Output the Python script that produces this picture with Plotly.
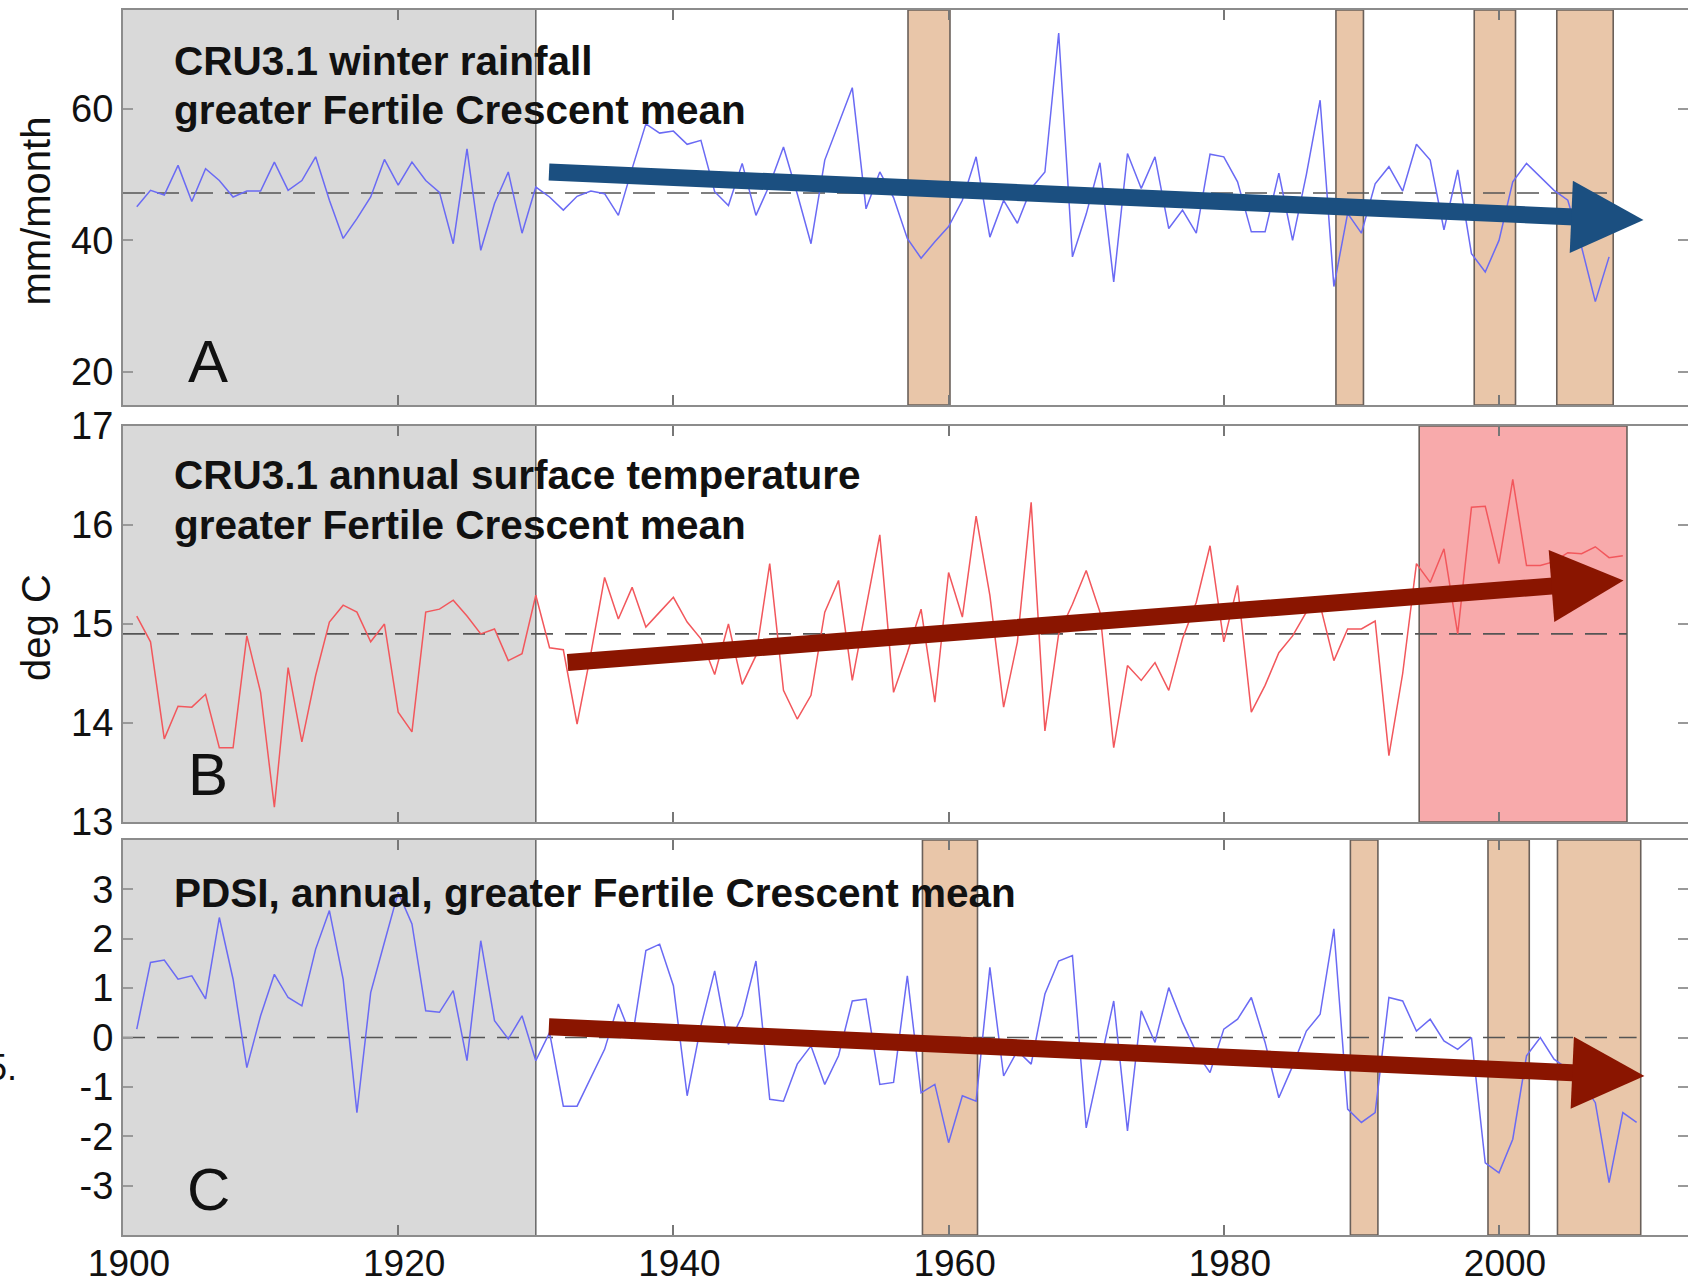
import plotly.graph_objects as go

# ---------------- data ----------------
years_rain = list(range(1901, 2009))
rain = [45.1, 47.6, 46.9, 51.4, 45.9, 50.9, 49.1, 46.6, 47.5, 47.5,
        51.9, 47.6, 49.1, 52.7, 46.1, 40.3, 43.3, 46.6, 52.3, 48.4,
        51.9, 49.1, 47.3, 39.5, 53.9, 38.5, 45.6, 50.4, 41.1, 48.1,
        46.6, 44.6, 46.7, 47.5, 47.1, 43.8, 50.9, 57.7, 56.3, 56.6,
        54.6, 55.2, 47.4, 45.3, 51.7, 43.8, 48.5, 54.2, 47.1, 39.5,
        52.2, 57.7, 63.2, 44.8, 50.4, 46.5, 40.3, 37.3, 39.8, 42.1,
        46.1, 52.7, 40.5, 46.1, 42.6, 47.9, 50.4, 71.5, 37.5, 44.0,
        51.8, 33.7, 53.2, 47.9, 52.7, 41.8, 44.6, 41.1, 53.1, 52.7,
        48.9, 41.3, 41.3, 50.2, 40.0, 50.0, 61.3, 33.0, 44.1, 41.1,
        48.6, 51.2, 47.5, 54.6, 52.2, 41.6, 50.7, 38.0, 35.2, 40.0,
        48.9, 51.7, 49.7, 47.6, 46.1, 39.0, 30.7, 37.5]

years_temp = list(range(1901, 2010))
temp = [15.08, 14.82, 13.84, 14.17, 14.16, 14.29, 13.75, 13.75, 14.88, 14.31,
        13.15, 14.56, 13.81, 14.48, 15.02, 15.19, 15.12, 14.82, 15.00, 14.11,
        13.91, 15.12, 15.15, 15.24, 15.08, 14.90, 14.95, 14.63, 14.70, 15.29,
        14.76, 14.74, 13.99, 14.70, 15.47, 15.05, 15.37, 14.97, 15.12, 15.27,
        15.02, 14.85, 14.49, 15.00, 14.39, 14.68, 15.61, 14.33, 14.04, 14.28,
        15.12, 15.44, 14.43, 15.15, 15.90, 14.31, 14.71, 15.15, 14.21, 15.52,
        15.07, 16.09, 15.29, 14.16, 14.82, 16.23, 13.92, 14.90, 15.20, 15.54,
        15.12, 13.75, 14.58, 14.43, 14.61, 14.33, 14.85, 15.22, 15.79, 14.82,
        15.39, 14.11, 14.38, 14.71, 14.88, 15.12, 15.19, 14.63, 14.95, 14.95,
        15.03, 13.67, 14.50, 15.61, 15.42, 15.76, 14.90, 16.18, 16.19, 15.61,
        16.46, 15.59, 15.59, 15.63, 15.72, 15.71, 15.78, 15.67, 15.69]

years_pdsi = list(range(1901, 2011))
pdsi = [0.17, 1.52, 1.57, 1.18, 1.25, 0.78, 2.43, 1.18, -0.61, 0.44,
        1.28, 0.81, 0.64, 1.79, 2.57, 1.18, -1.52, 0.91, 1.93, 2.94,
        2.30, 0.54, 0.51, 0.95, -0.47, 1.96, 0.34, -0.03, 0.44, -0.47,
        0.10, -1.39, -1.39, -0.81, -0.24, 0.68, -0.03, 1.76, 1.89, 1.05,
        -1.18, 0.24, 1.35, -0.14, 0.44, 1.55, -1.25, -1.29, -0.54, -0.17,
        -0.95, -0.37, 0.74, 0.78, -0.95, -0.91, 1.25, -1.12, -0.95, -2.13,
        -1.18, -1.29, 1.42, -0.78, -0.27, -0.54, 0.88, 1.55, 1.66, -1.83,
        -0.55, 0.74, -1.89, 0.54, -0.10, 1.01, 0.30, -0.30, -0.71, 0.17,
        0.37, 0.81, -0.10, -1.22, -0.58, 0.13, 0.47, 2.20, -1.45, -1.72,
        -1.52, 0.81, 0.74, 0.13, 0.37, -0.07, -0.24, 0.00, -2.54, -2.74,
        -2.06, -0.37, 0.00, -0.44, -0.64, -0.90, -1.32, -2.94, -1.52, -1.72]

# reference means (dashed lines) and their end years
rain_mean, rain_mean_end = 47.2, 2008.1
temp_mean, temp_mean_end = 14.9, 2009.3
pdsi_mean, pdsi_mean_end = 0.0, 2010.0

# shaded periods
calib_period = (1900, 1930)
rain_dry = [(1957.05, 1960.1), (1988.15, 1990.15), (1998.2, 2001.2), (2004.2, 2008.3)]
temp_warm = [(1994.2, 2009.3)]
pdsi_dry = [(1958.1, 1962.1), (1989.2, 1991.2), (1999.2, 2002.2), (2004.25, 2010.3)]

# trend arrows: (tail year, tail value, head year, head value)
rain_trend = (1930.85, 50.4, 2010.5, 43.1)
temp_trend = (1932.2, 14.61, 2009.05, 15.44)
pdsi_trend = (1930.84, 0.22, 2010.57, -0.78)

# ticks
x_ticks = [1900, 1920, 1940, 1960, 1980, 2000]
x_ticktext = ["1900", "1920", "1940", "1960", "1980", "2000"]
rain_ticks = [20, 40, 60]
temp_ticks = [13, 14, 15, 16, 17]
pdsi_ticks = [-3, -2, -1, 0, 1, 2, 3]
pdsi_ticktext = ["-3", "-2", "-1", "0", "1", "2", "3"]

# ---------------- styling ----------------
FONT = "Liberation Sans, Arial, Helvetica, sans-serif"
W, H = 1688, 1287
ML, MR, MT, MB = 123, 0, 10, 52
PX_PER_YEAR = 13.76
X_END = 1900 + (W - ML - MR) / PX_PER_YEAR

BLUE_LINE = "#6a6af4"
RED_LINE = "#f2575c"
GRAY_FILL = "#d9d9d9"
TAN_FILL = "#e9c6a9"
PINK_FILL = "#f8aaab"
EDGE = "#6a605a"
FRAME = "#8c8c8c"

fig = go.Figure()

fig.add_trace(go.Scatter(x=years_rain, y=rain, mode="lines",
                         line=dict(color=BLUE_LINE, width=1.5),
                         xaxis="x", yaxis="y", showlegend=False, hoverinfo="skip"))
fig.add_trace(go.Scatter(x=years_temp, y=temp, mode="lines",
                         line=dict(color=RED_LINE, width=1.5),
                         xaxis="x2", yaxis="y2", showlegend=False, hoverinfo="skip"))
fig.add_trace(go.Scatter(x=years_pdsi, y=pdsi, mode="lines",
                         line=dict(color=BLUE_LINE, width=1.5),
                         xaxis="x3", yaxis="y3", showlegend=False, hoverinfo="skip"))

shapes = []
panels = [("x", "y", rain_dry, TAN_FILL, rain_mean, rain_mean_end),
          ("x2", "y2", temp_warm, PINK_FILL, temp_mean, temp_mean_end),
          ("x3", "y3", pdsi_dry, TAN_FILL, pdsi_mean, pdsi_mean_end)]
for xr, yr, periods, fill, mean, mean_end in panels:
    shapes.append(dict(type="rect", xref=xr, yref=yr + " domain",
                       x0=calib_period[0], x1=calib_period[1], y0=0, y1=1,
                       fillcolor=GRAY_FILL, line=dict(width=0), layer="below"))
    shapes.append(dict(type="line", xref=xr, yref=yr + " domain",
                       x0=calib_period[1], x1=calib_period[1], y0=0, y1=1,
                       line=dict(color="#6e6e6e", width=1.6), layer="below"))
    for a, b in periods:
        shapes.append(dict(type="rect", xref=xr, yref=yr + " domain",
                           x0=a, x1=b, y0=0, y1=1, fillcolor=fill,
                           line=dict(color=EDGE, width=1.6), layer="below"))
    shapes.append(dict(type="line", xref=xr, yref=yr,
                       x0=1900, x1=mean_end, y0=mean, y1=mean,
                       line=dict(color="#555555", width=1.6, dash="22px,12px"),
                       layer="below"))

annotations = []
PW = W - ML - MR

def txt(text, x, y, yref, size, bold=False, xanchor="left", angle=0):
    annotations.append(dict(text=("<b>%s</b>" % text) if bold else text,
                            x=x, y=y, xref="paper", yref=yref,
                            xanchor=xanchor, yanchor="middle", showarrow=False,
                            textangle=angle,
                            font=dict(family=FONT, size=size, color="#111111")))

TX = (172 - ML) / PW
TS = 40.5
# panel titles
txt("CRU3.1 winter rainfall", TX, 0.872, "y domain", TS, bold=True)
txt("greater Fertile Crescent mean", TX, 0.746, "y domain", TS, bold=True)
txt("CRU3.1 annual surface temperature", TX, 0.876, "y2 domain", TS, bold=True)
txt("greater Fertile Crescent mean", TX, 0.750, "y2 domain", TS, bold=True)
txt("PDSI, annual, greater Fertile Crescent mean", TX, 0.866, "y3 domain", TS, bold=True)
# panel letters
LX = (208 - ML) / PW
txt("A", LX, 0.11, "y domain", 60, xanchor="center")
txt("B", LX, 0.12, "y2 domain", 60, xanchor="center")
txt("C", LX, 0.115, "y3 domain", 60, xanchor="center")
# y-axis titles
YT = (36 - ML) / PW
txt("mm/month", YT, 0.49, "y domain", 40, xanchor="center", angle=-90)
txt("deg C", YT, 0.49, "y2 domain", 40, xanchor="center", angle=-90)
# stray slide text at left edge
txt("5.", (19 - ML) / PW, 0.137, "paper", 36, xanchor="right")

for (xr, yr, trend, color) in [("x", "y", rain_trend, "#1b4f80"),
                               ("x2", "y2", temp_trend, "#8a1500"),
                               ("x3", "y3", pdsi_trend, "#8a1500")]:
    x0, y0, x1, y1 = trend
    annotations.append(dict(x=x1, y=y1, ax=x0, ay=y0, xref=xr, yref=yr,
                            axref=xr, ayref=yr, text="", showarrow=True,
                            arrowhead=2, arrowsize=0.85, arrowwidth=17,
                            arrowcolor=color, standoff=0, startstandoff=0))

plot_h = H - MT - MB
def dom(top_px, bottom_px):
    return [(H - MB - bottom_px) / plot_h, (H - MB - top_px) / plot_h]

xcommon = dict(range=[1900, X_END], tickvals=x_ticks, ticktext=x_ticktext,
               ticks="inside", ticklen=10, tickwidth=1.5, tickcolor="#777777",
               showline=True, linecolor=FRAME, linewidth=2, mirror="ticks",
               showgrid=False, zeroline=False, domain=[0, 1], automargin=False)
ycommon = dict(ticks="inside", ticklen=10, tickwidth=1.5, tickcolor="#999999",
               showline=True, linecolor=FRAME, linewidth=2, mirror="ticks",
               showgrid=False, zeroline=False, ticklabelstandoff=0,
               automargin=False,
               tickfont=dict(family=FONT, size=38, color="#111111"))

fig.update_layout(
    width=W, height=H,
    margin=dict(l=ML, r=MR, t=MT, b=MB, pad=0, autoexpand=False),
    paper_bgcolor="white", plot_bgcolor="white",
    showlegend=False,
    xaxis=dict(xcommon, anchor="y", showticklabels=False),
    xaxis2=dict(xcommon, anchor="y2", showticklabels=False),
    xaxis3=dict(xcommon, anchor="y3", showticklabels=True,
                ticklabelstandoff=-5, ticklabelshift=6,
                tickfont=dict(family=FONT, size=37, color="#111111")),
    yaxis=dict(ycommon, anchor="x", domain=dom(10, 405), range=[15, 75],
               tickvals=rain_ticks),
    yaxis2=dict(ycommon, anchor="x2", domain=dom(426, 822), range=[13, 17],
                tickvals=temp_ticks),
    yaxis3=dict(ycommon, anchor="x3", domain=dom(840, 1235), range=[-4, 4],
                tickvals=pdsi_ticks, ticktext=pdsi_ticktext),
    shapes=shapes,
    annotations=annotations,
)

fig.write_html("out.html",
               config={"displayModeBar": False},
               post_script="document.body.style.margin='0px';"
                           "document.body.style.overflow='hidden';")
